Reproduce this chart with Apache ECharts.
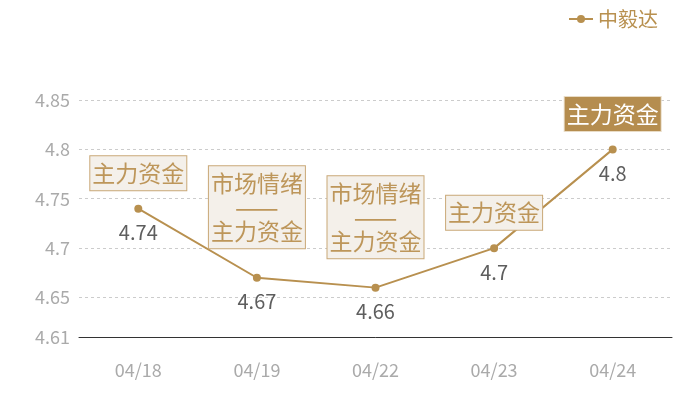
<!DOCTYPE html>
<html>
<head>
<meta charset="utf-8">
<script src="https://cdn.jsdelivr.net/npm/echarts@6/dist/echarts.min.js"></script>
<style>
  html, body { margin: 0; padding: 0; background: #fff; }
  #chart { width: 700px; height: 400px; }
</style>
</head>
<body>
<div id="chart"></div>
<script>
// data
var dates = ['04/18', '04/19', '04/22', '04/23', '04/24'];
var prices = [4.74, 4.67, 4.66, 4.7, 4.8];
var tags = ['主力资金', '市场情绪\n——\n主力资金', '市场情绪\n——\n主力资金', '主力资金', '主力资金'];
var highlight = [false, false, false, false, true];

var gold = '#b8904f';

var myChart = echarts.init(document.getElementById('chart'));

// tag boxes sit above each point, last one filled
var tagData = [];
for (var i = 0; i < prices.length; i++) {
    var multi = tags[i].indexOf('\n') >= 0;
    tagData.push({
        value: prices[i],
        label: {
            formatter: tags[i].replace('——', '{d|——}'),
            distance: multi ? 29 : 18,
            color: highlight[i] ? '#ffffff' : '#bd965a',
            backgroundColor: highlight[i] ? '#b58d4f' : '#f4f0ea',
            borderColor: highlight[i] ? '#e9dcc6' : '#c9a877'
        }
    });
}

var option = {
    animation: false,
    textStyle: { fontFamily: '"Noto Sans CJK SC", "Noto Sans", sans-serif' },
    legend: {
        data: ['中毅达'],
        right: 37,
        top: 4,
        itemWidth: 24,
        itemHeight: 10,
        itemGap: 7,
        textStyle: { color: gold, fontSize: 20 }
    },
    grid: { left: 79, right: 28, top: 100, bottom: 63 },
    xAxis: {
        type: 'category',
        data: dates,
        axisLine: { lineStyle: { color: '#333' } },
        axisTick: { show: false },
        axisLabel: { color: '#aaa', fontSize: 18, margin: 24 }
    },
    yAxis: {
        type: 'value',
        min: 4.61,
        max: 4.85,
        splitNumber: 5,
        axisLine: { show: false },
        axisTick: { show: false },
        axisLabel: { color: '#aaa', fontSize: 18, margin: 9 },
        splitLine: { lineStyle: { color: '#ccc', type: [3, 3] } }
    },
    series: [
        {
            name: '中毅达',
            type: 'line',
            data: prices,
            symbol: 'circle',
            symbolSize: 8,
            itemStyle: { color: gold },
            lineStyle: { color: gold, width: 2 },
            label: {
                show: true,
                position: 'bottom',
                distance: 10,
                color: '#5e5e5e',
                fontSize: 20
            },
            z: 2
        },
        {
            name: 'tags',
            type: 'line',
            data: tagData,
            symbol: 'circle',
            symbolSize: 1,
            showSymbol: true,
            itemStyle: { color: 'rgba(0,0,0,0)' },
            lineStyle: { width: 0, opacity: 0 },
            silent: true,
            label: {
                show: true,
                position: 'top',
                fontSize: 23,
                lineHeight: 24,
                padding: [5, 2, 5, 2],
                borderWidth: 1,
                align: 'center',
                rich: {
                    d: { fontSize: 26, lineHeight: 24 }
                }
            },
            z: 5
        }
    ]
};
myChart.setOption(option);
</script>
</body>
</html>
